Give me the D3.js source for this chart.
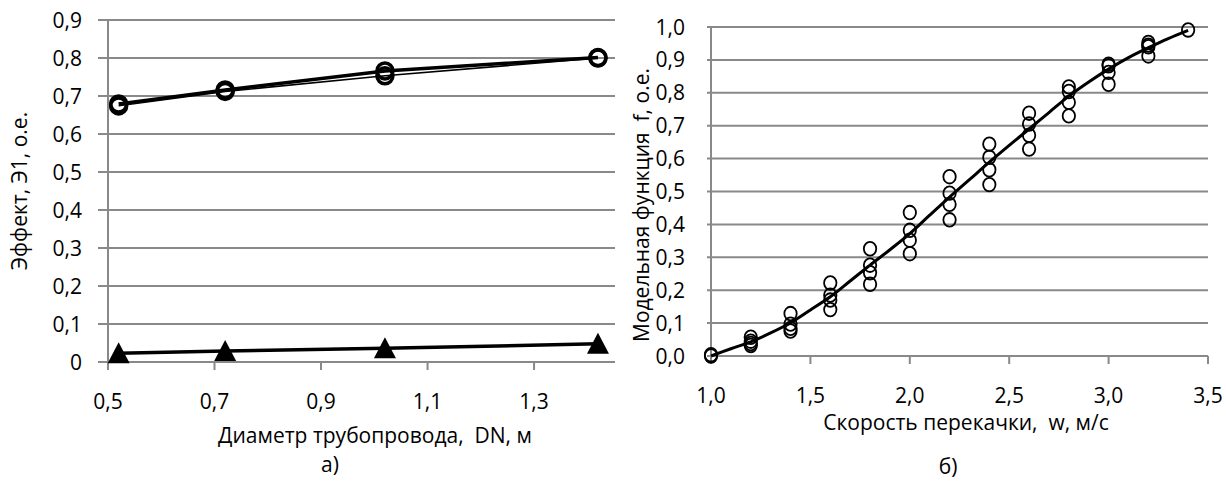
<!DOCTYPE html>
<html>
<head>
<meta charset="utf-8">
<script src="https://cdn.jsdelivr.net/npm/d3@7/dist/d3.min.js"></script>
<style>
  body { margin: 0; background: #fff; }
  svg text { font-family: "Open Sans", sans-serif; font-size: 21px; fill: #000; white-space: pre; }
</style>
</head>
<body>
<svg id="chart" width="1226" height="483"></svg>
<script>
// ---- график а): эффект от диаметра трубопровода
var diameters = [0.52, 0.72, 1.02, 1.42];
var effectThick = [0.679, 0.716, 0.766, 0.801];
var effectThin = [0.674, 0.712, 0.753, 0.800];
var effectLow = [0.023, 0.029, 0.036, 0.048];
var xTicksA = [0.5, 0.7, 0.9, 1.1, 1.3];
var xLabelsA = ["0,5", "0,7", "0,9", "1,1", "1,3"];
var yTicksA = [0, 0.1, 0.2, 0.3, 0.4, 0.5, 0.6, 0.7, 0.8, 0.9];
var yLabelsA = ["0", "0,1", "0,2", "0,3", "0,4", "0,5", "0,6", "0,7", "0,8", "0,9"];

// ---- график б): модельная функция от скорости перекачки
var speeds = [1.0, 1.2, 1.4, 1.6, 1.8, 2.0, 2.2, 2.4, 2.6, 2.8, 3.0, 3.2, 3.4];
var observed = [
  [0.004, 0.0],
  [0.057, 0.045, 0.038, 0.032],
  [0.129, 0.097, 0.084, 0.076],
  [0.222, 0.185, 0.170, 0.141],
  [0.326, 0.276, 0.253, 0.218],
  [0.436, 0.382, 0.352, 0.311],
  [0.545, 0.495, 0.461, 0.414],
  [0.644, 0.604, 0.566, 0.521],
  [0.738, 0.705, 0.671, 0.629],
  [0.818, 0.804, 0.771, 0.730],
  [0.887, 0.882, 0.862, 0.826],
  [0.953, 0.945, 0.940, 0.912],
  [0.991]
];
var curveW = [1.0, 1.1, 1.2, 1.3, 1.4, 1.5, 1.6, 1.7, 1.8, 1.9, 2.0, 2.1, 2.2, 2.3, 2.4, 2.5, 2.6, 2.7, 2.8, 2.9, 3.0, 3.1, 3.2, 3.3, 3.4];
var curveF = [0.0, 0.022, 0.043, 0.070, 0.101, 0.140, 0.180, 0.228, 0.276, 0.323, 0.372, 0.428, 0.483, 0.536, 0.589, 0.640, 0.690, 0.740, 0.790, 0.833, 0.872, 0.907, 0.937, 0.965, 0.990];
var xTicksB = [1.0, 1.5, 2.0, 2.5, 3.0, 3.5];
var xLabelsB = ["1,0", "1,5", "2,0", "2,5", "3,0", "3,5"];
var yTicksB = [0, 0.1, 0.2, 0.3, 0.4, 0.5, 0.6, 0.7, 0.8, 0.9, 1.0];
var yLabelsB = ["0,0", "0,1", "0,2", "0,3", "0,4", "0,5", "0,6", "0,7", "0,8", "0,9", "1,0"];

var GRID = "#898989";
var svg = d3.select("#chart");

// оси и сетка
function drawFrame(g, x, y, xTicks, xLabels, yTicks, yLabels, yTick) {
    var x0 = x.range()[0], x1 = x.range()[1];
    var y0 = y.range()[0], y1 = y.range()[1];

    g.selectAll("line.grid").data(yTicks).enter().append("line")
        .attr("class", "grid")
        .attr("x1", x0 - yTick).attr("x2", x1)
        .attr("y1", function (d) { return y(d); })
        .attr("y2", function (d) { return y(d); })
        .attr("stroke", GRID).attr("stroke-width", 2);

    g.append("line")
        .attr("x1", x0).attr("x2", x0)
        .attr("y1", y0).attr("y2", y1)
        .attr("stroke", GRID).attr("stroke-width", 2);

    g.selectAll("line.xtick").data(xTicks).enter().append("line")
        .attr("class", "xtick")
        .attr("x1", function (d) { return x(d); })
        .attr("x2", function (d) { return x(d); })
        .attr("y1", y0).attr("y2", y0 + 8)
        .attr("stroke", GRID).attr("stroke-width", 2);

    g.selectAll("text.ylab").data(yTicks).enter().append("text")
        .attr("class", "ylab")
        .attr("x", x0 - 26)
        .attr("y", function (d) { return y(d); })
        .attr("dy", "0.36em")
        .attr("text-anchor", "end")
        .text(function (d, i) { return yLabels[i]; });

    g.selectAll("text.xlab").data(xTicks).enter().append("text")
        .attr("class", "xlab")
        .attr("x", function (d) { return x(d); })
        .attr("y", y0 + 47)
        .attr("text-anchor", "middle")
        .text(function (d, i) { return xLabels[i]; });
}

// ---------- а)
var xA = d3.scaleLinear().domain([0.5, 1.452]).range([108, 615]);
var yA = d3.scaleLinear().domain([0, 0.9]).range([362, 20]);
var gA = svg.append("g");
drawFrame(gA, xA, yA, xTicksA, xLabelsA, yTicksA, yLabelsA, 10);

var lineA = d3.line().x(function (d) { return xA(d[0]); }).y(function (d) { return yA(d[1]); });
var thinPts = d3.zip(diameters, effectThin);
var thickPts = d3.zip(diameters, effectThick);
var lowPts = d3.zip(diameters, effectLow);

gA.append("path").attr("d", lineA(thinPts)).attr("fill", "none").attr("stroke", "#000").attr("stroke-width", 1.5);
gA.append("path").attr("d", lineA(thickPts)).attr("fill", "none").attr("stroke", "#000").attr("stroke-width", 3.5);
gA.append("path").attr("d", lineA(lowPts)).attr("fill", "none").attr("stroke", "#000").attr("stroke-width", 3.5);

gA.selectAll("circle.mk").data(thinPts.concat(thickPts)).enter().append("circle")
    .attr("class", "mk")
    .attr("cx", function (d) { return xA(d[0]); })
    .attr("cy", function (d) { return yA(d[1]); })
    .attr("r", 8)
    .attr("fill", "none").attr("stroke", "#000").attr("stroke-width", 3.5);

gA.selectAll("path.tri").data(lowPts).enter().append("path")
    .attr("class", "tri")
    .attr("d", function (d) {
        var cx = xA(d[0]), cy = yA(d[1]);
        return "M" + (cx - 11) + "," + (cy + 10) + "L" + (cx + 11) + "," + (cy + 10) + "L" + cx + "," + (cy - 11) + "Z";
    })
    .attr("fill", "#000");

gA.append("text")
    .attr("transform", "translate(19," + ((yA.range()[0] + yA.range()[1]) / 2) + ") rotate(-90)")
    .attr("text-anchor", "middle")
    .attr("dy", "0.36em")
    .text("Эффект, Э1, о.е.");
gA.append("text")
    .attr("x", 375).attr("y", 443)
    .attr("text-anchor", "middle")
    .text("Диаметр трубопровода,  DN, м");
gA.append("text")
    .attr("x", 330).attr("y", 472)
    .attr("text-anchor", "middle")
    .text("а)");

// ---------- б)
var xB = d3.scaleLinear().domain([1.0, 3.5]).range([711, 1208]);
var yB = d3.scaleLinear().domain([0, 1.0]).range([356, 27]);
var gB = svg.append("g");
drawFrame(gB, xB, yB, xTicksB, xLabelsB, yTicksB, yLabelsB, 4);

var obsPts = [];
speeds.forEach(function (w, i) {
    observed[i].forEach(function (f) { obsPts.push([w, f]); });
});

var curveB = d3.line().curve(d3.curveCatmullRom)
    .x(function (d) { return xB(d[0]); }).y(function (d) { return yB(d[1]); });
gB.append("path").attr("d", curveB(d3.zip(curveW, curveF)))
    .attr("fill", "none").attr("stroke", "#000").attr("stroke-width", 3);

gB.selectAll("ellipse.obs").data(obsPts).enter().append("ellipse")
    .attr("class", "obs")
    .attr("cx", function (d) { return xB(d[0]); })
    .attr("cy", function (d) { return yB(d[1]); })
    .attr("rx", 6.2).attr("ry", 6.8)
    .attr("fill", "none").attr("stroke", "#000").attr("stroke-width", 1.8);

gB.append("text")
    .attr("transform", "translate(641,205) rotate(-90)")
    .attr("text-anchor", "middle")
    .attr("dy", "0.36em")
    .text("Модельная функция  f, o.e.");
gB.append("text")
    .attr("x", 966).attr("y", 430)
    .attr("font-size", "20.5px")
    .attr("text-anchor", "middle")
    .text("Скорость перекачки,  w, м/с");
gB.append("text")
    .attr("x", 948).attr("y", 474)
    .attr("text-anchor", "middle")
    .text("б)");
</script>
</body>
</html>
